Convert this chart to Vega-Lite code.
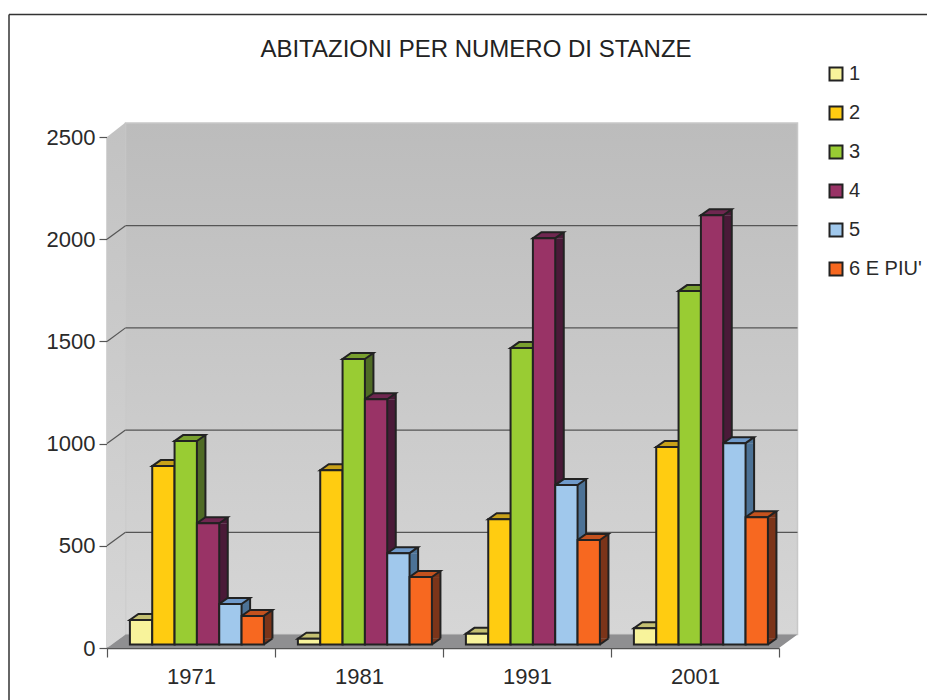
{
"$schema":"https://vega.github.io/schema/vega-lite/v6.json",
"width":672,"height":511,
"autosize":{"type":"none"},
"padding":{"left":107,"top":137,"right":148,"bottom":52},
"background":"white",
"title":{"text":"ABITAZIONI PER NUMERO DI STANZE","font":"Liberation Sans","fontSize":24,"fontWeight":"normal","color":"#222222","anchor":"middle","frame":"group","offset":-48,"dx":33},
"config":{"view":{"stroke":null},
"axis":{"labelFont":"Liberation Sans","labelFontSize":22,"labelColor":"#2a2a2a","domainColor":"#555555","tickColor":"#555555","domainWidth":1.5,"tickWidth":1.2,"grid":false,"title":null,"zindex":1},
"axisX":{"tickBand":"extent","tickSize":9,"labelAngle":0,"labelPadding":9},
"axisY":{"tickSize":8,"labelPadding":4,"tickCount":6,"format":"d"}},
"datasets":{
"abitazioni":[
{"anno":"1971","stanze":"1","abitazioni":120},{"anno":"1971","stanze":"2","abitazioni":873},{"anno":"1971","stanze":"3","abitazioni":995},{"anno":"1971","stanze":"4","abitazioni":593},{"anno":"1971","stanze":"5","abitazioni":198},{"anno":"1971","stanze":"6 E PIU'","abitazioni":140},
{"anno":"1981","stanze":"1","abitazioni":28},{"anno":"1981","stanze":"2","abitazioni":853},{"anno":"1981","stanze":"3","abitazioni":1397},{"anno":"1981","stanze":"4","abitazioni":1200},{"anno":"1981","stanze":"5","abitazioni":447},{"anno":"1981","stanze":"6 E PIU'","abitazioni":330},
{"anno":"1991","stanze":"1","abitazioni":52},{"anno":"1991","stanze":"2","abitazioni":613},{"anno":"1991","stanze":"3","abitazioni":1450},{"anno":"1991","stanze":"4","abitazioni":1988},{"anno":"1991","stanze":"5","abitazioni":780},{"anno":"1991","stanze":"6 E PIU'","abitazioni":511},
{"anno":"2001","stanze":"1","abitazioni":80},{"anno":"2001","stanze":"2","abitazioni":966},{"anno":"2001","stanze":"3","abitazioni":1729},{"anno":"2001","stanze":"4","abitazioni":2100},{"anno":"2001","stanze":"5","abitazioni":985},{"anno":"2001","stanze":"6 E PIU'","abitazioni":623}
],
"griglia":[{"livello":500},{"livello":1000},{"livello":1500},{"livello":2000}],
"uno":[{"parte":"parete"}]
},
"resolve":{"scale":{"x":"independent"}},
"layer":[
{"data":{"name":"uno"},
"layer":[
{"mark":{"type":"rule","color":"#333333","strokeWidth":1.5,"xOffset":-98,"x2Offset":148,"yOffset":-122.5},
 "encoding":{"x":{"datum":0,"type":"quantitative","scale":{"domain":[0,4]},"axis":null},"x2":{"datum":4},"y":{"datum":2500,"type":"quantitative","scale":{"domain":[0,2500],"nice":false}}}},
{"mark":{"type":"rule","color":"#333333","strokeWidth":1.5,"xOffset":-98,"yOffset":-122.5,"y2Offset":52},
 "encoding":{"x":{"datum":0,"type":"quantitative"},"y":{"datum":2500,"type":"quantitative"},"y2":{"datum":0}}},
{"mark":{"type":"rect","stroke":"#c8c8c8","strokeWidth":1.5,"xOffset":18.5,"x2Offset":18.5,"yOffset":-14,"y2Offset":-13.5,"fill":{"gradient":"linear","x1":0,"y1":0,"x2":0,"y2":1,"stops":[{"offset":0,"color":"#bcbcbc"},{"offset":1,"color":"#d6d6d6"}]}},
 "encoding":{"x":{"datum":0,"type":"quantitative"},"x2":{"datum":4},"y":{"datum":2500,"type":"quantitative"},"y2":{"datum":0}}},
{"mark":{"type":"point","filled":true,"opacity":1,"size":1960000,"fill":{"gradient":"linear","x1":0,"y1":0,"x2":0,"y2":1,"stops":[{"offset":0,"color":"#c2c2c2"},{"offset":1,"color":"#d6d6d6"}]},"shape":"M0,0 L0.0264,-0.0193 L0.0264,-0.7507 L0,-0.73 Z"},
 "encoding":{"x":{"datum":0,"type":"quantitative"},"y":{"datum":0,"type":"quantitative"}}},
{"mark":{"type":"point","filled":true,"opacity":1,"size":1960000,"fill":"#8f8f91","shape":"M0,0 L0.96,0 L0.9864,-0.0193 L0.0264,-0.0193 Z"},
 "encoding":{"x":{"datum":0,"type":"quantitative"},"y":{"datum":0,"type":"quantitative"}}},
{"data":{"name":"griglia"},"mark":{"type":"rule","color":"#555555","strokeWidth":1.2,"xOffset":18.5,"x2Offset":18.5,"yOffset":-13.5},
 "encoding":{"x":{"datum":0,"type":"quantitative"},"x2":{"datum":4},"y":{"field":"livello","type":"quantitative"}}},
{"data":{"name":"griglia"},"mark":{"type":"point","filled":false,"opacity":1,"size":1960000,"stroke":"#555555","strokeWidth":1.2,"shape":"M0,0 L0.0264,-0.0193"},
 "encoding":{"x":{"datum":0,"type":"quantitative"},"y":{"field":"livello","type":"quantitative"}}}
]},
{"data":{"name":"abitazioni"},
"resolve":{"scale":{"fill":"independent","xOffset":"independent"}},
"encoding":{
 "x":{"field":"anno","type":"nominal","scale":{"paddingInner":0,"paddingOuter":0},"axis":{"orient":"bottom"}}
},
"layer":[
{"mark":{"type":"bar","width":8.5,"yOffset":-3.5,"y2Offset":-9.5,"stroke":null},
 "encoding":{"xOffset":{"field":"stanze","type":"nominal","scale":{"type":"band","paddingInner":0,"paddingOuter":0,"range":[38.3,172.3]}},"y":{"field":"abitazioni","type":"quantitative"},"y2":{"datum":0},"fill":{"field":"stanze","type":"nominal","legend":null,"scale":{"range":["#8f8c55","#917416","#4f6b25","#4a1a38","#4c7296","#7b3419"]}}}},
{"mark":{"type":"point","filled":true,"opacity":1,"size":2500,"yOffset":-3.5,"shape":"M0.447,0 L0.787,-0.24 L0.787,0 Z"},
 "encoding":{"xOffset":{"field":"stanze","type":"nominal","scale":{"type":"band","paddingInner":0,"paddingOuter":0,"range":[22.9,156.9]}},"y":{"field":"abitazioni","type":"quantitative"},"fill":{"field":"stanze","type":"nominal","legend":null,"scale":{"range":["#8f8c55","#917416","#4f6b25","#4a1a38","#4c7296","#7b3419"]}}}},
{"mark":{"type":"point","filled":true,"opacity":1,"size":2500,"yOffset":-3.5,"shape":"M0.447,0 L0.787,-0.24 L0.447,-0.24 Z"},
 "encoding":{"xOffset":{"field":"stanze","type":"nominal","scale":{"type":"band","paddingInner":0,"paddingOuter":0,"range":[22.9,156.9]}},"y":{"datum":0,"type":"quantitative"},"fill":{"field":"stanze","type":"nominal","legend":null,"scale":{"range":["#8f8c55","#917416","#4f6b25","#4a1a38","#4c7296","#7b3419"]}}}},
{"mark":{"type":"rule","color":"#222222","strokeWidth":2,"yOffset":-9.5,"y2Offset":-9.5},
 "encoding":{"xOffset":{"field":"stanze","type":"nominal","scale":{"type":"band","paddingInner":0,"paddingOuter":0,"range":[42.6,176.6]}},"y":{"field":"abitazioni","type":"quantitative"},"y2":{"datum":0}}},
{"mark":{"type":"point","filled":false,"opacity":1,"size":2500,"yOffset":-3.5,"stroke":"#222222","strokeWidth":2,"shape":"M0.447,0 L0.787,-0.24"},
 "encoding":{"xOffset":{"field":"stanze","type":"nominal","scale":{"type":"band","paddingInner":0,"paddingOuter":0,"range":[22.9,156.9]}},"y":{"datum":0,"type":"quantitative"}}},
{"mark":{"type":"point","filled":true,"opacity":1,"size":2500,"yOffset":-3.5,"stroke":"#222222","strokeWidth":2,"shape":"M-0.447,0 L0.447,0 L0.787,-0.24 L-0.107,-0.24 Z"},
 "encoding":{"xOffset":{"field":"stanze","type":"nominal","scale":{"type":"band","paddingInner":0,"paddingOuter":0,"range":[22.9,156.9]}},"y":{"field":"abitazioni","type":"quantitative"},"fill":{"field":"stanze","type":"nominal","legend":null,"scale":{"range":["#c4c072","#c9a118","#789f2e","#6f2750","#6f9aca","#c4521e"]}}}},
{"mark":{"type":"bar","yOffset":-3.5,"y2Offset":-3.5,"stroke":"#222222","strokeWidth":2},
 "encoding":{"xOffset":{"field":"stanze","type":"nominal","scale":{"type":"band","paddingInner":0,"paddingOuter":0,"range":[22.9,156.9]}},"y":{"field":"abitazioni","type":"quantitative"},"y2":{"datum":0},
  "fill":{"field":"stanze","type":"nominal","scale":{"range":["#f8f39b","#ffcc11","#99cc33","#993366","#a0c8ec","#f76820"]},
   "legend":{"title":null,"orient":"none","legendX":719,"legendY":-73,"padding":0,"symbolType":"square","symbolSize":169,"symbolStrokeColor":"#222222","symbolStrokeWidth":2,"labelFont":"Liberation Sans","labelFontSize":20,"labelColor":"#2a2a2a","rowPadding":17,"labelOffset":3}}}}
]}
]}
